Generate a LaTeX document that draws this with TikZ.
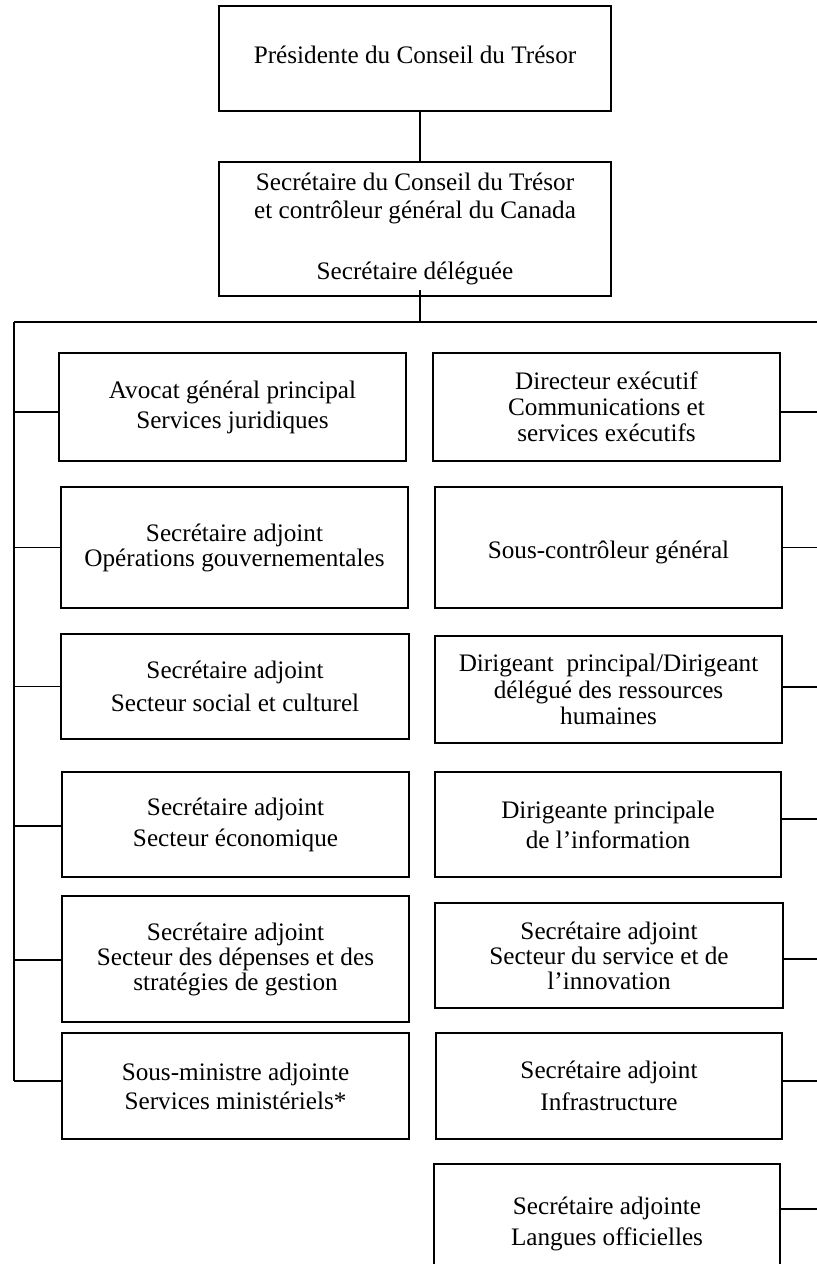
\documentclass[tikz,border=0pt]{standalone}
\usepackage{fontspec}
\setmainfont{Liberation Serif}
\usetikzlibrary{calc}
\begin{document}
\begin{tikzpicture}[x=0.75pt,y=-0.75pt,
  box/.style={draw, line width=1pt, align=center, inner sep=0pt, outer sep=0pt},
  ln/.style={line width=1pt},
  ls/.style={font=\fontsize{18.9}{#1}\selectfont}]
\useasboundingbox (0,0) rectangle (817,1264);
\clip (0,0) rectangle (817,1264);
% top
\node[box, ls=21pt, text height=13pt, text depth=5pt, minimum width=294pt, minimum height=78.75pt] (P) at (415,58.5) {Présidente du Conseil du Trésor};
\node[box, ls=21pt, minimum width=294pt, minimum height=100.5pt] (S) at (415,229) {Secrétaire du Conseil du Trésor\\et contrôleur général du Canada\\[24.75pt]Secrétaire déléguée};
% left column
\node[box, ls=22.5pt, minimum width=260.25pt, minimum height=81pt] (L1) at (232.5,407) {Avocat général principal\\Services juridiques};
\node[box, ls=18.75pt, minimum width=260.25pt, minimum height=90.75pt] (L2) at (234.5,547.5) {Secrétaire adjoint\\Opérations gouvernementales};
\node[box, ls=24.75pt, minimum width=261pt, minimum height=78.75pt] (L3) at (235,686.5) {Secrétaire adjoint\\Secteur social et culturel};
\node[box, ls=23.25pt, minimum width=260.25pt, minimum height=78.75pt] (L4) at (235.5,824.5) {Secrétaire adjoint\\Secteur économique};
\node[box, ls=18.75pt, minimum width=260.25pt, minimum height=94.5pt] (L5) at (235.5,959) {Secrétaire adjoint\\Secteur des dépenses et des\\stratégies de gestion};
\node[box, ls=21.75pt, minimum width=260.25pt, minimum height=79.5pt] (L6) at (235.5,1086) {Sous-ministre adjointe\\Services ministériels*};
% right column
\node[box, ls=19.5pt, minimum width=260.25pt, minimum height=81pt] (R1) at (606.5,407) {Directeur exécutif\\Communications et\\services exécutifs};
\node[box, ls=21pt, text height=15.8pt, text depth=0pt, minimum width=260.25pt, minimum height=90.75pt] (R2) at (608.5,547.5) {Sous-contrôleur général};
\node[box, ls=19.9pt, minimum width=260.25pt, minimum height=80.25pt] (R3) at (608.5,689.5) {Dirigeant~ principal/Dirigeant\\délégué des ressources\\humaines};
\node[box, ls=22.5pt, minimum width=259.5pt, minimum height=78.75pt] (R4) at (608,824.5) {Dirigeante principale\\de l’information};
\node[box, ls=18.75pt, minimum width=261pt, minimum height=78.75pt] (R5) at (609,955.5) {Secrétaire adjoint\\Secteur du service et de\\l’innovation};
\node[box, ls=24pt, minimum width=259.5pt, minimum height=79.5pt] (R6) at (609,1086) {Secrétaire adjoint\\Infrastructure};
\node[box, ls=23.25pt, minimum width=259.5pt, minimum height=90pt] (R7) at (607,1224) {Secrétaire adjointe\\Langues officielles};
% bus coordinates
\coordinate (lt) at (14,322);
\coordinate (rt) at (817,322);
\coordinate (tr) at (420,322);
\coordinate (lb) at (14,1081);
% connectors
\draw[ln] (P.south -| tr) -- (S.north -| tr);
\draw[ln] ($(S.south -| tr)+(0,-6)$) -- (tr);
\draw[ln] (lt) -- (rt);
\draw[ln] (lt) -- (lb);
\draw[ln] ($(L1.west)+(0,5)$) -- ($(L1.west -| lt)+(0,5)$);
\draw[ln] (L2.west) -- (L2.west -| lt);
\draw[ln] (L3.west) -- (L3.west -| lt);
\draw[ln] ($(L4.west)+(0,1.5)$) -- ($(L4.west -| lt)+(0,1.5)$);
\draw[ln] ($(L5.west)+(0,1)$) -- ($(L5.west -| lt)+(0,1)$);
\draw[ln] ($(L6.west)+(0,-5)$) -- (lb);
\draw[ln] ($(R1.east)+(0,5)$) -- ($(R1.east -| rt)+(0,5)$);
\draw[ln] (R2.east) -- (R2.east -| rt);
\draw[ln] ($(R3.east)+(0,-2.5)$) -- ($(R3.east -| rt)+(0,-2.5)$);
\draw[ln] ($(R4.east)+(0,-5.5)$) -- ($(R4.east -| rt)+(0,-5.5)$);
\draw[ln] ($(R5.east)+(0,3.5)$) -- ($(R5.east -| rt)+(0,3.5)$);
\draw[ln] ($(R6.east)+(0,-5)$) -- ($(R6.east -| rt)+(0,-5)$);
\draw[ln] ($(R7.east)+(0,-15)$) -- ($(R7.east -| rt)+(0,-15)$);
\end{tikzpicture}
\end{document}
